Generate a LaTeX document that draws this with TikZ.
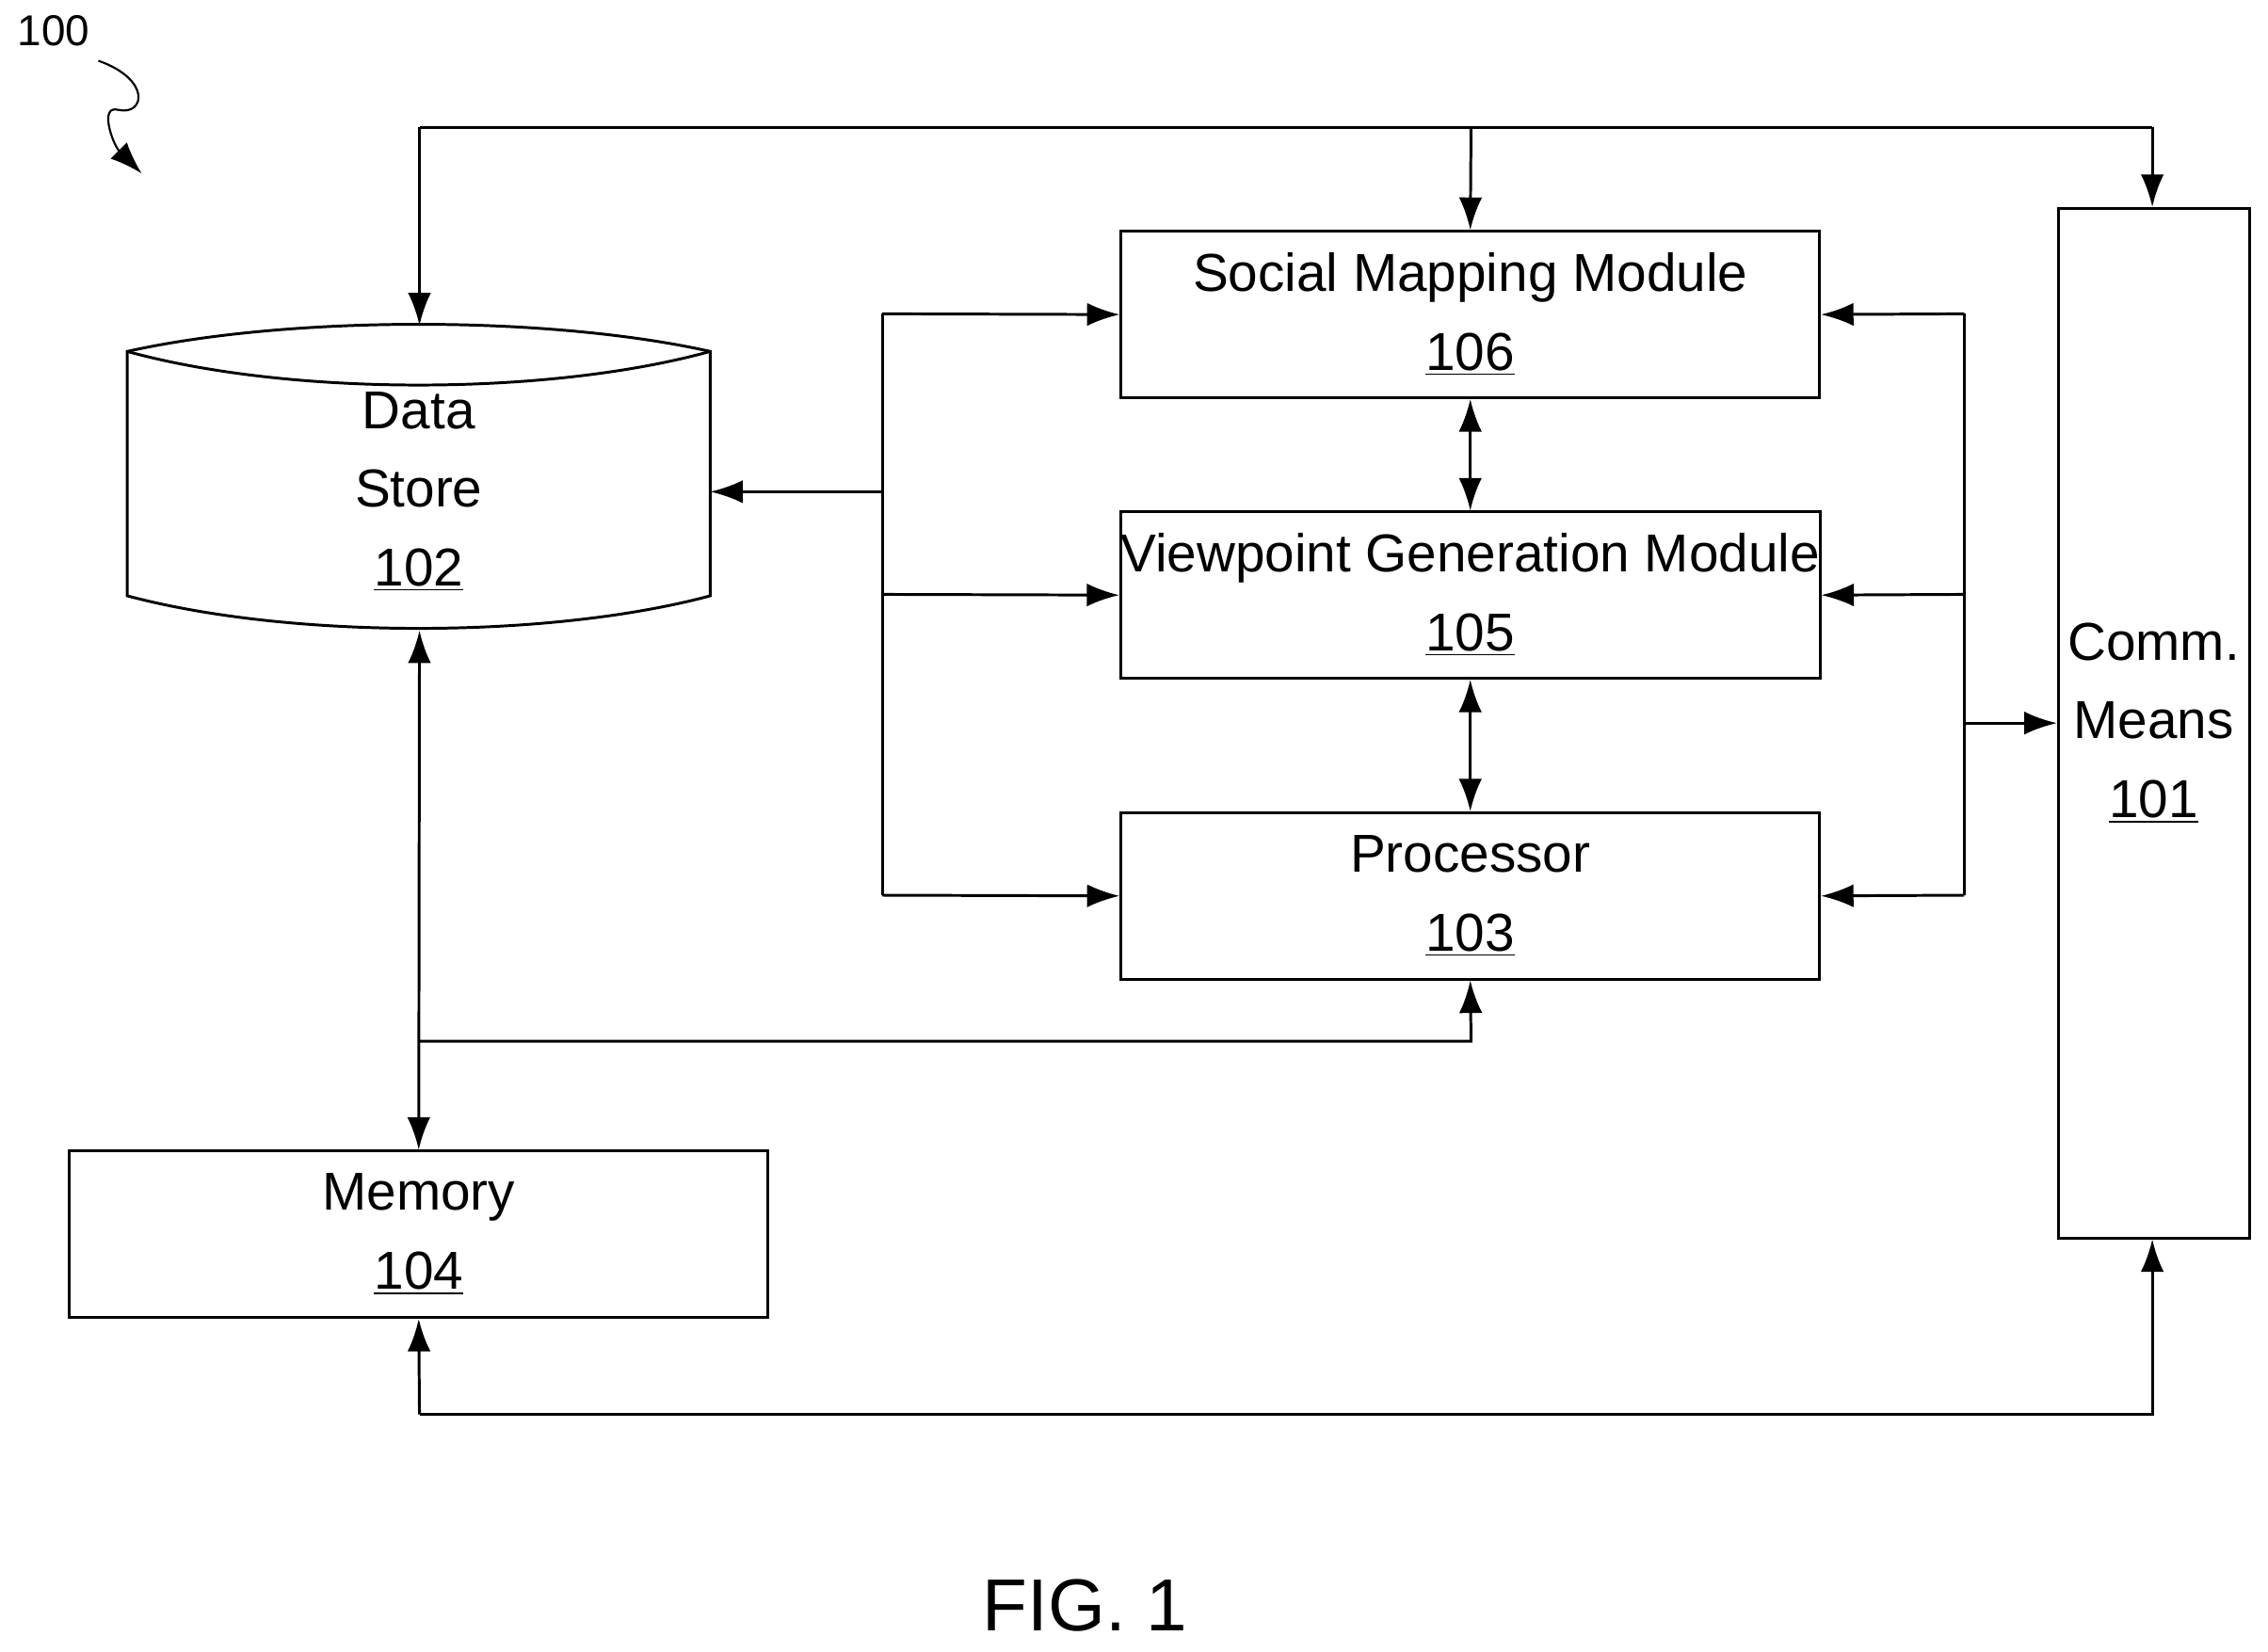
\documentclass[tikz,border=0pt]{standalone}
\usepackage{fontspec}
\setmainfont{Liberation Sans}
\usetikzlibrary{arrows.meta}
\begin{document}
\begin{tikzpicture}[x=0.02cm,y=-0.02cm,
  line width=1.1pt,
  >={Latex[length=0.45cm,width=0.32cm]},
  box/.style={draw,rectangle,minimum width=9.66cm,minimum height=2.3cm,align=center,font=\fontsize{21}{31}\selectfont,inner sep=0pt},
  lab/.style={font=\fontsize{21}{31}\selectfont,align=center}]
\useasboundingbox (0,0) rectangle (1568,1142);
% boxes
\node[box] (smm) at (1016.5,217.5) {Social Mapping Module\\\underline{106}};
\node[box] (vgm) at (1016.5,411.5) {Viewpoint Generation Module\\\underline{105}};
\node[box] (proc) at (1016.5,619.5) {Processor\\\underline{103}};
\node[box] (mem) at (289.5,853.5) {Memory\\\underline{104}};
\node[box,minimum width=2.64cm,minimum height=14.24cm] (comm) at (1489,500) {Comm.\\Means\\\underline{101}};
% data store
\draw (88,243) .. controls (200,218) and (379,218) .. (491,243)
      -- (491,412) .. controls (379,442) and (200,442) .. (88,412) -- cycle;
\draw (88,243) .. controls (200,274) and (379,274) .. (491,243);
\node[lab] (ds) at (289.5,340) {Data\\Store\\\underline{102}};
\coordinate (dstop) at (290,225);
\coordinate (dsbot) at (290,436);
\coordinate (dsright) at (491,340);
% top line
\coordinate (t1) at (290,88); \coordinate (t2) at (1017,88); \coordinate (t3) at (1488,88);
\draw (t1) -- (t3);
\draw[->] (t1) -- (dstop);
\draw[->] (t2) -- (smm.north);
\draw[->] (t3) -- (t3 |- comm.north);
% left bus
\coordinate (lb1) at (610,217); \coordinate (lb2) at (610,411); \coordinate (lb3) at (610,619); \coordinate (lb0) at (610,340);
\draw (lb1) -- (lb3);
\draw[->] (lb0) -- (dsright);
\draw[->] (lb1) -- (smm.west);
\draw[->] (lb2) -- (vgm.west);
\draw[->] (lb3) -- (proc.west);
% right bus
\coordinate (rb1) at (1358,217); \coordinate (rb2) at (1358,411); \coordinate (rb3) at (1358,619); \coordinate (rb0) at (1358,500);
\draw (rb1) -- (rb3);
\draw[->] (rb1) -- (smm.east);
\draw[->] (rb2) -- (vgm.east);
\draw[->] (rb3) -- (proc.east);
\draw[->] (rb0) -- (comm.west |- rb0);
% module links
\draw[<->] (smm.south) -- (vgm.north);
\draw[<->] (vgm.south) -- (proc.north);
% data store - memory
\draw[<->] (dsbot) -- (mem.north);
\coordinate (j1) at (290,720); \coordinate (j2) at (1017,720);
\draw[->] (j1) -- (j2) -- (proc.south);
% bottom
\coordinate (b1) at (290,978); \coordinate (b2) at (1488,978);
\draw[->] (b1) -- (mem.south);
\draw[->] (b1) -- (b2) -- (b2 |- comm.south);
% label 100
\node[font=\fontsize{17}{20}\selectfont] (l100) at (37,21) {100};
\draw[->,line width=0.8pt] (68,42) .. controls (105,55) and (100,80) .. (82,76) .. controls (68,72) and (78,100) .. (98,120);
\node[font=\fontsize{29}{34}\selectfont] (fig) at (750,1110) {FIG. 1};
\end{tikzpicture}
\end{document}
